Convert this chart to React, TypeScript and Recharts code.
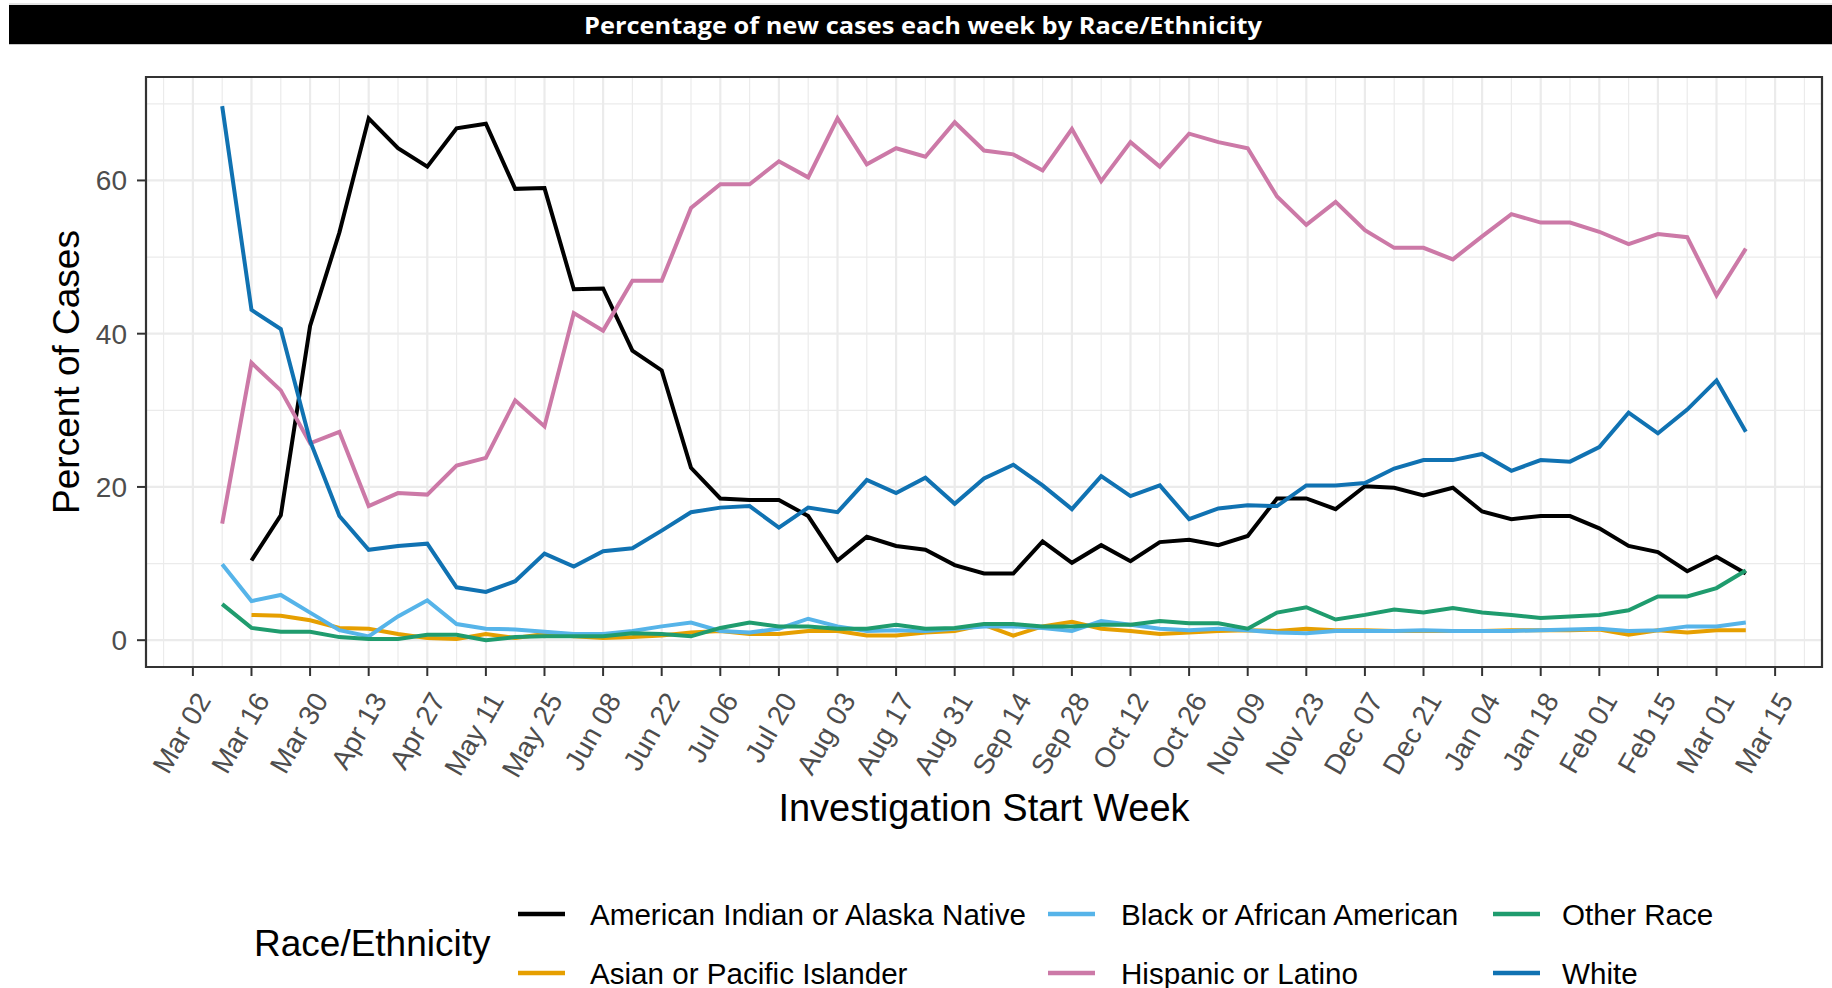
import React from "react";
import { LineChart, Line, XAxis, YAxis, CartesianGrid, ReferenceArea } from "recharts";

// week starting dates (Mon), Mar 09 2020 .. Mar 08 2021
const weekLabels = [
  "Mar 09", "Mar 16", "Mar 23", "Mar 30", "Apr 06", "Apr 13", "Apr 20", "Apr 27",
  "May 04", "May 11", "May 18", "May 25", "Jun 01", "Jun 08", "Jun 15", "Jun 22",
  "Jun 29", "Jul 06", "Jul 13", "Jul 20", "Jul 27", "Aug 03", "Aug 10", "Aug 17",
  "Aug 24", "Aug 31", "Sep 07", "Sep 14", "Sep 21", "Sep 28", "Oct 05", "Oct 12",
  "Oct 19", "Oct 26", "Nov 02", "Nov 09", "Nov 16", "Nov 23", "Nov 30", "Dec 07",
  "Dec 14", "Dec 21", "Dec 28", "Jan 04", "Jan 11", "Jan 18", "Jan 25", "Feb 01",
  "Feb 08", "Feb 15", "Feb 22", "Mar 01", "Mar 08",
];

const aian = [
  null, 10.4, 16.3, 41.0, 53.2, 68.1, 64.2, 61.8, 66.8, 67.4, 58.9, 59.0, 45.8, 45.9,
  37.8, 35.2, 22.5, 18.5, 18.3, 18.3, 16.2, 10.4, 13.5, 12.3, 11.8, 9.8, 8.7, 8.7,
  12.9, 10.1, 12.4, 10.3, 12.8, 13.1, 12.4, 13.6, 18.5, 18.5, 17.1, 20.1, 19.9, 18.9,
  19.9, 16.8, 15.8, 16.2, 16.2, 14.6, 12.3, 11.5, 9.0, 10.9, 8.7,
];
const asian = [
  null, 3.3, 3.2, 2.6, 1.6, 1.5, 0.8, 0.3, 0.15, 0.8, 0.3, 0.8, 0.5, 0.3,
  0.4, 0.6, 1.0, 1.2, 0.8, 0.8, 1.2, 1.2, 0.6, 0.6, 1.0, 1.2, 2.0, 0.6,
  1.8, 2.4, 1.5, 1.2, 0.8, 1.0, 1.2, 1.3, 1.2, 1.5, 1.3, 1.3, 1.2, 1.2,
  1.2, 1.2, 1.3, 1.3, 1.3, 1.4, 0.7, 1.3, 1.0, 1.3, 1.3,
];
const black = [
  9.9, 5.1, 5.9, 3.6, 1.3, 0.5, 3.1, 5.2, 2.1, 1.5, 1.4, 1.1, 0.8, 0.8,
  1.2, 1.8, 2.3, 1.2, 1.0, 1.5, 2.8, 1.8, 1.2, 1.3, 1.2, 1.5, 1.8, 1.8,
  1.6, 1.2, 2.5, 2.0, 1.5, 1.3, 1.5, 1.3, 1.0, 0.9, 1.2, 1.2, 1.2, 1.3,
  1.2, 1.2, 1.2, 1.3, 1.4, 1.5, 1.2, 1.3, 1.8, 1.8, 2.3,
];
const hispanic = [
  15.2, 36.2, 32.6, 25.7, 27.2, 17.5, 19.2, 19.0, 22.8, 23.8, 31.3, 27.9, 42.7, 40.4,
  46.9, 46.9, 56.4, 59.5, 59.5, 62.5, 60.4, 68.1, 62.1, 64.2, 63.1, 67.6, 63.9, 63.4,
  61.3, 66.7, 59.9, 65.0, 61.8, 66.1, 65.0, 64.2, 57.9, 54.2, 57.2, 53.5, 51.2, 51.2,
  49.7, 52.7, 55.6, 54.5, 54.5, 53.3, 51.7, 53.0, 52.6, 45.0, 51.1,
];
const other = [
  4.7, 1.6, 1.1, 1.1, 0.4, 0.15, 0.15, 0.7, 0.7, 0.0, 0.4, 0.5, 0.5, 0.5,
  0.9, 0.8, 0.5, 1.6, 2.3, 1.8, 1.8, 1.5, 1.5, 2.0, 1.5, 1.6, 2.1, 2.1,
  1.8, 1.8, 2.0, 2.0, 2.5, 2.2, 2.2, 1.5, 3.6, 4.3, 2.7, 3.3, 4.0, 3.6,
  4.2, 3.6, 3.3, 2.9, 3.1, 3.3, 3.9, 5.7, 5.7, 6.8, 9.1,
];
const white = [
  69.7, 43.1, 40.6, 26.0, 16.2, 11.8, 12.3, 12.6, 6.9, 6.3, 7.7, 11.3, 9.6, 11.6,
  12.0, 14.3, 16.7, 17.3, 17.5, 14.7, 17.3, 16.7, 20.9, 19.2, 21.2, 17.8, 21.1, 22.9,
  20.2, 17.1, 21.4, 18.8, 20.2, 15.8, 17.2, 17.6, 17.5, 20.2, 20.2, 20.5, 22.4, 23.5,
  23.5, 24.3, 22.1, 23.5, 23.3, 25.2, 29.7, 27.0, 30.1, 33.9, 27.2,
];

// x ticks every two weeks, counted in weeks from Mar 02 2020
const tickLabels = [
  "Mar 02", "Mar 16", "Mar 30", "Apr 13", "Apr 27", "May 11", "May 25", "Jun 08",
  "Jun 22", "Jul 06", "Jul 20", "Aug 03", "Aug 17", "Aug 31", "Sep 14", "Sep 28",
  "Oct 12", "Oct 26", "Nov 09", "Nov 23", "Dec 07", "Dec 21", "Jan 04", "Jan 18",
  "Feb 01", "Feb 15", "Mar 01", "Mar 15",
];
const tickWeeks = tickLabels.map((_, i) => i * 2);
const minorWeeks = [-1, ...tickWeeks.map((w) => w + 1)];
const yTicks = [0, 20, 40, 60];
const yMinor = [10, 30, 50, 70];

const series = [
  { key: "aian", name: "American Indian or Alaska Native", color: "#000000", values: aian },
  { key: "asian", name: "Asian or Pacific Islander", color: "#E69F00", values: asian },
  { key: "black", name: "Black or African American", color: "#56B4E9", values: black },
  { key: "hispanic", name: "Hispanic or Latino", color: "#CC79A7", values: hispanic },
  { key: "other", name: "Other Race", color: "#1F9C6E", values: other },
  { key: "white", name: "White", color: "#1072B2", values: white },
];

const data = weekLabels.map((label, i) => {
  const row: any = { week: i + 1, label };
  series.forEach((s) => (row[s.key] = s.values[i]));
  return row;
});

const FONT = "'Liberation Sans', Arial, Helvetica, sans-serif";
const X_DOMAIN = [-1.6, 55.6];
const Y_DOMAIN = [-3.5, 73.5];

const XTick = (props: any) => {
  const { x, y, payload } = props;
  const ax = x + 19;
  const ay = y + 22;
  const label = tickLabels[tickWeeks.indexOf(payload.value)];
  return (
    <text
      x={ax}
      y={ay}
      textAnchor="end"
      fill="#4d4d4d"
      fontSize={28}
      fontFamily={FONT}
      transform={`rotate(-60 ${ax} ${ay})`}
    >
      {label}
    </text>
  );
};

const legendKeyX = [518, 1048, 1493];
const legendTextX = [590, 1121, 1562];
const legendBase = [925, 984];

export default function App() {
  return (
    <div style={{ position: "absolute", left: 0, top: 0, width: 1832, height: 988, background: "#fff", overflow: "hidden" }}>
      <LineChart
        width={1832}
        height={988}
        data={data}
        margin={{ top: 77, right: 10, bottom: 171, left: 0 }}
      >
        <CartesianGrid stroke="#ebebeb" strokeWidth={1.2} horizontalValues={yMinor} verticalValues={minorWeeks} />
        <CartesianGrid stroke="#ebebeb" strokeWidth={2.2} horizontalValues={yTicks} verticalValues={tickWeeks} />
        <XAxis
          type="number"
          dataKey="week"
          domain={X_DOMAIN}
          ticks={tickWeeks}
          interval={0}
          height={150}
          axisLine={false}
          tickLine={{ stroke: "#333333", strokeWidth: 2 }}
          tickSize={9}
          tickMargin={2}
          tick={<XTick />}
        />
        <YAxis
          type="number"
          domain={Y_DOMAIN}
          ticks={yTicks}
          width={146}
          axisLine={false}
          tickLine={{ stroke: "#333333", strokeWidth: 2 }}
          tickSize={9}
          tickMargin={10}
          tick={{ fill: "#4d4d4d", fontSize: 28, fontFamily: FONT }}
        />
        {series.map((s) => (
          <Line
            key={s.key}
            type="linear"
            dataKey={s.key}
            name={s.name}
            stroke={s.color}
            strokeWidth={4}
            dot={false}
            activeDot={false}
            isAnimationActive={false}
          />
        ))}
        <ReferenceArea
          x1={X_DOMAIN[0]}
          x2={X_DOMAIN[1]}
          y1={Y_DOMAIN[0]}
          y2={Y_DOMAIN[1]}
          fill="none"
          fillOpacity={0}
          stroke="#333333"
          strokeWidth={2.2}
          ifOverflow="visible"
        />
      </LineChart>

      <svg
        width={1832}
        height={988}
        style={{ position: "absolute", left: 0, top: 0, pointerEvents: "none" }}
      >
        <line x1={9} x2={1832} y1={4} y2={4} stroke="#c8c8c8" strokeWidth={1} />
        <rect x={9} y={5} width={1823} height={39} fill="#000" />
        <line x1={9} x2={1832} y1={44.5} y2={44.5} stroke="#c8c8c8" strokeWidth={1} />
        <text
          x={923}
          y={34}
          textAnchor="middle"
          fill="#fff"
          fontSize={24}
          fontWeight="bold"
          fontFamily="'Open Sans', sans-serif"
          textLength={678}
          lengthAdjust="spacingAndGlyphs"
        >
          Percentage of new cases each week by Race/Ethnicity
        </text>

        <text
          transform="translate(79 372) rotate(-90)"
          textAnchor="middle"
          fontSize={37}
          fontFamily={FONT}
          fill="#000"
        >
          Percent of Cases
        </text>
        <text x={984} y={821} textAnchor="middle" fontSize={38} fontFamily={FONT} fill="#000">
          Investigation Start Week
        </text>

        <text x={254} y={956} fontSize={37} fontFamily={FONT} fill="#000">
          Race/Ethnicity
        </text>
        {series.map((s, i) => {
          const col = Math.floor(i / 2);
          const row = i % 2;
          const base = legendBase[row];
          return (
            <g key={s.key}>
              <line
                x1={legendKeyX[col]}
                x2={legendKeyX[col] + 47}
                y1={base - 11}
                y2={base - 11}
                stroke={s.color}
                strokeWidth={4.5}
              />
              <text x={legendTextX[col]} y={base} fontSize={29.6} fontFamily={FONT} fill="#000">
                {s.name}
              </text>
            </g>
          );
        })}
      </svg>
    </div>
  );
}
